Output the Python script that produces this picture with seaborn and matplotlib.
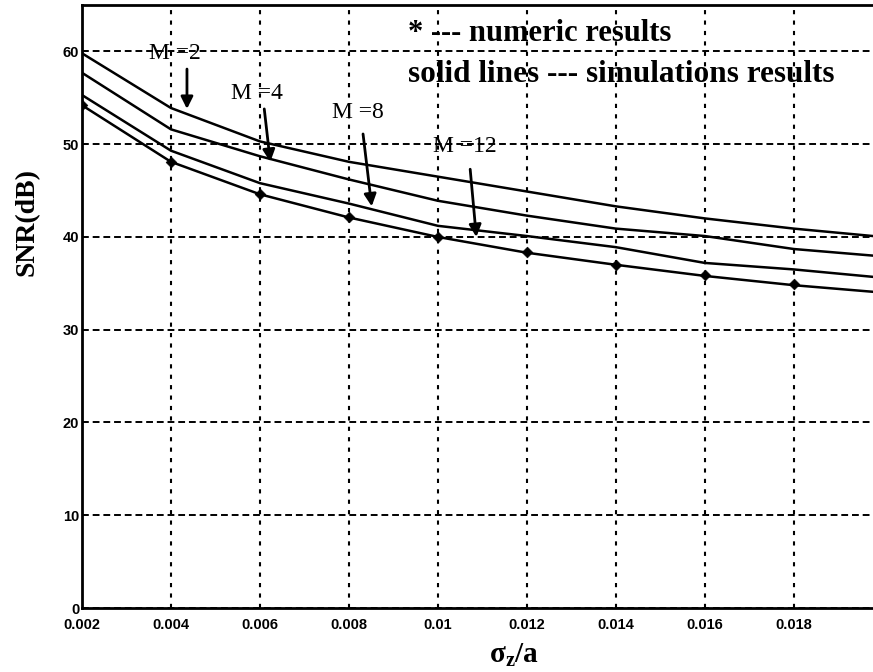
import numpy as np
import pandas as pd
import matplotlib
matplotlib.use("Agg")
import matplotlib.pyplot as plt
import seaborn as sns

sns.set_style("white")
plt.rcParams["font.family"] = ["Liberation Serif", "DejaVu Serif"]
plt.rcParams["mathtext.fontset"] = "custom"
plt.rcParams["mathtext.rm"] = "Liberation Serif"
plt.rcParams["mathtext.bf"] = "Liberation Serif:bold"
plt.rcParams["mathtext.it"] = "Liberation Serif:italic"
for key in ["text.color", "axes.labelcolor", "xtick.color", "ytick.color"]:
    plt.rcParams[key] = "black"

# sigma_z / a values
x_vals = [0.002, 0.004, 0.006, 0.008, 0.010, 0.012, 0.014, 0.016, 0.018, 0.020]

# simulation curves (solid lines), SNR in dB
snr_m2 = [59.8, 53.9, 50.3, 48.1, 46.5, 44.9, 43.3, 42.0, 40.9, 40.0]
snr_m4 = [57.7, 51.6, 48.7, 46.2, 43.9, 42.3, 40.9, 40.1, 38.7, 37.9]
snr_m8 = [55.3, 49.3, 45.8, 43.6, 41.2, 40.1, 38.9, 37.2, 36.5, 35.6]
snr_m12 = [54.2, 48.1, 44.6, 42.1, 40.0, 38.3, 37.0, 35.8, 34.8, 34.0]

# numeric results (markers)
num_x = [0.002, 0.004, 0.006, 0.008, 0.010, 0.012, 0.014, 0.016, 0.018]
num_snr = [54.2, 48.1, 44.6, 42.1, 40.0, 38.4, 37.0, 35.9, 34.9]

xtick_vals = [0.002, 0.004, 0.006, 0.008, 0.01, 0.012, 0.014, 0.016, 0.018]
xtick_labels = ["0.002", "0.004", "0.006", "0.008", "0.01", "0.012", "0.014", "0.016", "0.018"]
ytick_vals = [0, 10, 20, 30, 40, 50, 60]

# label text, label position, arrow start, arrow tip
labels = ["M =2", "M =4", "M =8", "M =12"]
label_xy = [(0.00409, 59.8), (0.00593, 55.5), (0.0082, 53.4), (0.01061, 49.8)]
arrow_from = [(0.00436, 58.4), (0.00609, 54.1), (0.00831, 51.4), (0.01072, 47.6)]
arrow_to = [(0.00436, 53.5), (0.00624, 47.8), (0.00852, 43.0), (0.01087, 39.7)]

curves = pd.DataFrame({
    "x": x_vals * 4,
    "snr": snr_m2 + snr_m4 + snr_m8 + snr_m12,
    "M": ["2"] * 10 + ["4"] * 10 + ["8"] * 10 + ["12"] * 10,
})
numeric = pd.DataFrame({"x": num_x, "snr": num_snr})

fig = plt.figure(figsize=(8.73, 6.72), dpi=100)
ax = fig.add_axes([0.0939, 0.0952, 0.9061, 0.8973])

sns.lineplot(data=curves, x="x", y="snr", units="M", estimator=None,
             color="black", lw=1.8, ax=ax, legend=False)
sns.scatterplot(data=numeric, x="x", y="snr", marker="D", s=30,
                color="black", edgecolor="black", ax=ax, zorder=5)

ax.set_xlim(0.002, 0.01978)
ax.set_ylim(0, 65)
ax.set_xticks(xtick_vals)
ax.set_xticklabels(xtick_labels)
ax.set_yticks(ytick_vals)
for lab in ax.get_xticklabels() + ax.get_yticklabels():
    lab.set_family(["Liberation Sans", "DejaVu Sans"])
    lab.set_fontweight("bold")
    lab.set_fontsize(10.5)
ax.tick_params(axis="y", length=0, pad=2)
ax.tick_params(axis="x", length=0, pad=7)

ax.xaxis.grid(True, color="black", linestyle=(0, (2, 3)), linewidth=1.5)
ax.yaxis.grid(True, color="black", linestyle=(0, (3.5, 2)), linewidth=1.4)
for side in ["left", "top", "bottom"]:
    ax.spines[side].set_color("black")
    ax.spines[side].set_linewidth(2)
ax.spines["right"].set_visible(False)

ax.set_xlabel("σ$_\\mathbf{z}$/a", fontsize=21, fontweight="bold")
ax.xaxis.set_label_coords(0.546, -0.056)
ax.set_ylabel("SNR(dB)", fontsize=20, fontweight="bold")
ax.yaxis.set_label_coords(-0.054, 0.64)

for txt, pos, p0, p1 in zip(labels, label_xy, arrow_from, arrow_to):
    ax.text(pos[0], pos[1], txt, fontsize=17, ha="center", va="center")
    ax.annotate("", xy=p1, xytext=p0,
                arrowprops=dict(arrowstyle="-|>", color="black", lw=2,
                                mutation_scale=18))

ax.text(0.00933, 61.1, "* --- numeric results", fontsize=22, fontweight="bold",
        ha="left", va="baseline")
ax.text(0.00933, 56.7, "solid lines --- simulations results", fontsize=22.5,
        fontweight="bold", ha="left", va="baseline")

plt.savefig("out.png", dpi=100)
plt.close()
